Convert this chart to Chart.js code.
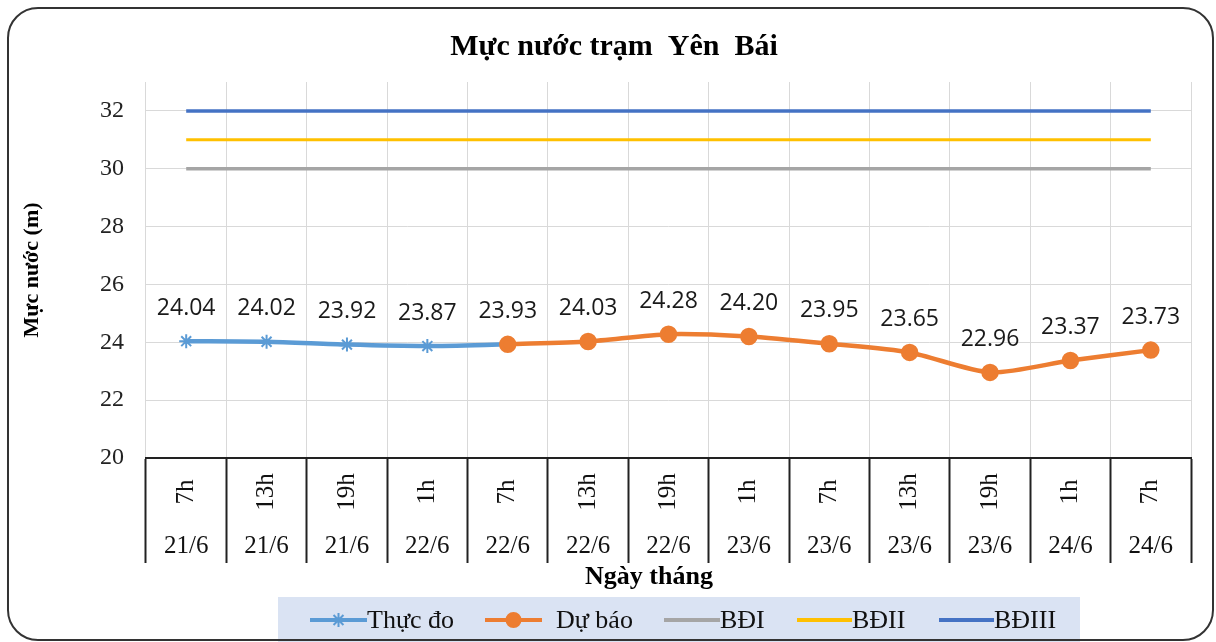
<!DOCTYPE html>
<html>
<head>
<meta charset="utf-8">
<script src="https://cdn.jsdelivr.net/npm/chart.js@4.4.0/dist/chart.umd.min.js"></script>
<style>
    html, body { margin: 0; padding: 0; background: #fff; }
    #wrap { width: 1216px; height: 642px; }
</style>
</head>
<body>
<div id="wrap"><canvas id="myChart" width="1216" height="642"></canvas></div>
<script>
// Nhãn trục X (2 tầng: giờ / ngày)
var gioLabels = ["7h", "13h", "19h", "1h", "7h", "13h", "19h", "1h", "7h", "13h", "19h", "1h", "7h"];
var ngayLabels = ["21/6", "21/6", "21/6", "22/6", "22/6", "22/6", "22/6", "23/6", "23/6", "23/6", "23/6", "24/6", "24/6"];

// Mực nước (m)
var thucDo = [24.04, 24.02, 23.92, 23.87, 23.93, null, null, null, null, null, null, null, null];
var duBao = [null, null, null, null, 23.93, 24.03, 24.28, 24.20, 23.95, 23.65, 22.96, 23.37, 23.73];

// Các cấp báo động
var bdI = [30, 30, 30, 30, 30, 30, 30, 30, 30, 30, 30, 30, 30];
var bdII = [31, 31, 31, 31, 31, 31, 31, 31, 31, 31, 31, 31, 31];
var bdIII = [32, 32, 32, 32, 32, 32, 32, 32, 32, 32, 32, 32, 32];

var yTicks = [20, 22, 24, 26, 28, 30, 32];

var SERIF = '"Liberation Serif", "Times New Roman", serif';

// khung bo tròn + tiêu đề + nhãn trục X + chú giải
var khungPlugin = {
    id: 'khung',
    beforeDraw: function (chart) {
        var ctx = chart.ctx;
        ctx.save();
        ctx.fillStyle = '#fff';
        ctx.fillRect(0, 0, chart.width, chart.height);
        ctx.restore();
    },
    afterDraw: function (chart) {
        var ctx = chart.ctx;
        var x = chart.scales.x;
        var area = chart.chartArea;
        ctx.save();

        // tiêu đề
        ctx.fillStyle = '#000';
        ctx.font = 'bold 30px ' + SERIF;
        ctx.textAlign = 'center';
        ctx.textBaseline = 'middle';
        ctx.fillText('Mực nước trạm  Yên  Bái', 614, 47);

        // nhãn giờ (xoay) và ngày
        ctx.font = '25px ' + SERIF;
        ctx.fillStyle = '#111';
        for (var i = 0; i < gioLabels.length; i++) {
            var cx = x.getPixelForValue(i);
            ctx.save();
            ctx.translate(cx, area.bottom + 34);
            ctx.rotate(-Math.PI / 2);
            ctx.fillText(gioLabels[i], 0, 0);
            ctx.restore();
            ctx.fillText(ngayLabels[i], cx, area.bottom + 88);
        }

        // tên trục X
        ctx.font = 'bold 26px ' + SERIF;
        ctx.fillStyle = '#000';
        ctx.fillText('Ngày tháng', 649, 577);

        // chú giải
        ctx.fillStyle = '#DAE3F3';
        ctx.fillRect(278, 597, 802, 45);
        var items = [
            { text: 'Thực đo', color: '#5B9BD5', x0: 310, x1: 367, tx: 367, style: 'star' },
            { text: 'Dự báo', color: '#ED7D31', x0: 485, x1: 542, tx: 556, style: 'circle' },
            { text: 'BĐI', color: '#A5A5A5', x0: 664, x1: 720, tx: 720 },
            { text: 'BĐII', color: '#FFC000', x0: 797, x1: 852, tx: 852 },
            { text: 'BĐIII', color: '#4472C4', x0: 939, x1: 994, tx: 994 }
        ];
        var ly = 620;
        ctx.font = '26px ' + SERIF;
        ctx.textAlign = 'left';
        items.forEach(function (it) {
            ctx.strokeStyle = it.color;
            ctx.lineWidth = 4;
            ctx.beginPath();
            ctx.moveTo(it.x0, ly);
            ctx.lineTo(it.x1, ly);
            ctx.stroke();
            if (it.style) {
                ctx.fillStyle = it.color;
                ctx.lineWidth = 2;
                Chart.helpers.drawPoint(ctx, { pointStyle: it.style, radius: 7, borderWidth: 2 }, (it.x0 + it.x1) / 2, ly);
            }
            ctx.fillStyle = '#111';
            ctx.fillText(it.text, it.tx, ly + 1);
        });

        // viền ngoài
        ctx.strokeStyle = '#333';
        ctx.lineWidth = 2;
        ctx.beginPath();
        ctx.roundRect(8, 8, 1205, 632, 30);
        ctx.stroke();
        ctx.restore();
    }
};

// nhãn giá trị trên điểm
var nhanPlugin = {
    id: 'nhanGiaTri',
    afterDatasetsDraw: function (chart) {
        var ctx = chart.ctx;
        ctx.save();
        ctx.font = '23px "Open Sans", sans-serif';
        ctx.fillStyle = '#1a1a1a';
        ctx.textAlign = 'center';
        ctx.textBaseline = 'middle';
        chart.data.datasets.forEach(function (ds, i) {
            if (ds.nhanTu === undefined) return;
            var meta = chart.getDatasetMeta(i);
            meta.data.forEach(function (pt, j) {
                var v = ds.data[j];
                if (v === null || j < ds.nhanTu) return;
                ctx.fillText(v.toFixed(2), pt.x, pt.y - 33);
            });
        });
        ctx.restore();
    }
};

var ctx = document.getElementById('myChart');

var chart = new Chart(ctx, {
    type: 'line',
    data: {
        labels: gioLabels.map(function (g, i) { return [g, ngayLabels[i]]; }),
        datasets: [{
            label: 'Thực đo',
            data: thucDo,
            borderColor: '#5B9BD5',
            backgroundColor: '#5B9BD5',
            borderWidth: 4.5,
            pointStyle: 'star',
            pointRadius: 7,
            pointBorderWidth: 2,
            tension: 0.25,
            order: 1,
            nhanTu: 0
        }, {
            label: 'Dự báo',
            data: duBao,
            borderColor: '#ED7D31',
            backgroundColor: '#ED7D31',
            borderWidth: 4.5,
            pointStyle: 'circle',
            pointRadius: 6.5,
            tension: 0.25,
            order: 0,
            nhanTu: 5
        }, {
            label: 'BĐI',
            data: bdI,
            borderColor: '#A5A5A5',
            borderWidth: 3.5,
            pointRadius: 0,
            order: 4
        }, {
            label: 'BĐII',
            data: bdII,
            borderColor: '#FFC000',
            borderWidth: 3,
            pointRadius: 0,
            order: 3
        }, {
            label: 'BĐIII',
            data: bdIII,
            borderColor: '#4472C4',
            borderWidth: 3.5,
            pointRadius: 0,
            order: 2
        }]
    },
    options: {
        responsive: false,
        animation: false,
        devicePixelRatio: 1,
        layout: { padding: { left: 15, right: 25, top: 82, bottom: 0 } },
        plugins: {
            legend: { display: false },
            tooltip: { enabled: false }
        },
        scales: {
            x: {
                offset: true,
                ticks: { display: false },
                grid: {
                    offset: true,
                    color: '#D9D9D9',
                    lineWidth: 1,
                    drawTicks: true,
                    tickLength: 105,
                    tickColor: '#222',
                    tickWidth: 2
                },
                border: { color: '#222', width: 2 },
                afterFit: function (scale) { scale.height = 184; }
            },
            y: {
                min: 20,
                max: 33,
                afterBuildTicks: function (axis) {
                    axis.ticks = yTicks.map(function (v) { return { value: v }; });
                },
                ticks: {
                    padding: 22,
                    color: '#222',
                    font: { family: SERIF, size: 24 }
                },
                grid: { color: '#D9D9D9', lineWidth: 1, drawTicks: false },
                border: { display: false },
                title: {
                    display: true,
                    text: 'Mực nước (m)',
                    color: '#000',
                    font: { family: SERIF, size: 22, weight: 'bold' }
                },
                afterFit: function (scale) { scale.width = 131; }
            }
        }
    },
    plugins: [khungPlugin, nhanPlugin]
});
</script>
</body>
</html>
